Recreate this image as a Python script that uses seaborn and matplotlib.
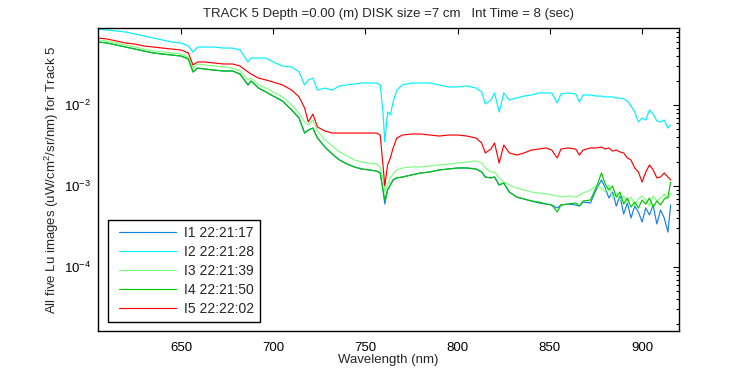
import numpy as np
import pandas as pd
import matplotlib
matplotlib.use('Agg')
import matplotlib.pyplot as plt
import matplotlib.ticker as mticker
from matplotlib.legend_handler import HandlerLine2D
import seaborn as sns

# Wavelength grid (nm) shared by all five Lu spectra
wavelength = [605, 610, 615, 620, 625, 630, 635, 640, 645, 650, 654, 656.5, 659, 663, 668, 673, 678, 682,
              686.3, 688, 692, 696, 700, 705, 710, 714, 717, 719, 721.5, 724, 728, 732, 736, 740, 744, 748,
              752, 756, 758, 759.5, 760.5, 762, 763.5, 765, 767, 770, 775, 780, 785, 790, 795, 800, 805,
              810, 813, 815, 818, 820, 822.5, 825, 828, 832, 836, 840, 844, 848, 851, 854, 856, 860, 864,
              866, 868, 872, 875, 878, 880, 882, 884, 886, 888, 890, 892, 894, 896, 898, 900, 902, 904,
              906, 908, 910, 912, 914, 915.5]

# I1 (blue)
lu_i1 = [0.0599, 0.0583, 0.0550, 0.0520, 0.0491, 0.0464, 0.0439, 0.0426, 0.0414, 0.0403, 0.0370, 0.0256,
         0.0286, 0.0278, 0.0270, 0.0263, 0.0263, 0.0241, 0.0177, 0.0198, 0.0162, 0.0145, 0.0129, 0.0112,
         0.00868, 0.00691, 0.00451, 0.00491, 0.00520, 0.00391, 0.00303, 0.00248, 0.00209, 0.00187,
         0.00172, 0.00162, 0.00158, 0.00153, 0.00145, 0.000893, 0.000599, 0.000893, 0.00103, 0.00119,
         0.00126, 0.00129, 0.00137, 0.00145, 0.00149, 0.00158, 0.00162, 0.00167, 0.00167, 0.00162,
         0.00149, 0.00129, 0.00126, 0.00129, 0.00103, 0.00109, 0.000843, 0.000731, 0.000691, 0.000653,
         0.000617, 0.000599, 0.000583, 0.000535, 0.000583, 0.000599, 0.000583, 0.000566, 0.000635,
         0.000617, 0.000893, 0.00119, 0.000945, 0.000711, 0.000843, 0.000566, 0.000753, 0.000451,
         0.000617, 0.000403, 0.000566, 0.000478, 0.000359, 0.000535, 0.000439, 0.000583, 0.000340,
         0.000505, 0.000403, 0.000270, 0.000583]

# I2 (cyan)
lu_i2 = [0.0868, 0.0843, 0.0820, 0.0797, 0.0753, 0.0711, 0.0672, 0.0635, 0.0599, 0.0583, 0.0535, 0.0451,
         0.0520, 0.0520, 0.0520, 0.0505, 0.0505, 0.0478, 0.0340, 0.0380, 0.0380, 0.0380, 0.0340, 0.0303,
         0.0295, 0.0256, 0.0177, 0.0204, 0.0215, 0.0153, 0.0162, 0.0153, 0.0172, 0.0177, 0.0182, 0.0187,
         0.0187, 0.0187, 0.0177, 0.00820, 0.00349, 0.00820, 0.00753, 0.0109, 0.0153, 0.0177, 0.0187,
         0.0187, 0.0187, 0.0177, 0.0167, 0.0167, 0.0172, 0.0162, 0.0145, 0.0103, 0.0115, 0.0141, 0.00820,
         0.0141, 0.0115, 0.0122, 0.0129, 0.0133, 0.0141, 0.0141, 0.0141, 0.0106, 0.0137, 0.0141, 0.0137,
         0.0109, 0.0133, 0.0133, 0.0129, 0.0129, 0.0126, 0.0126, 0.0126, 0.0122, 0.0122, 0.0119, 0.0112,
         0.00972, 0.00820, 0.00617, 0.00691, 0.00653, 0.00868, 0.00774, 0.00635, 0.00617, 0.00653,
         0.00520, 0.00566]

# I3 (light green)
lu_i3 = [0.0635, 0.0617, 0.0583, 0.0550, 0.0520, 0.0491, 0.0464, 0.0451, 0.0439, 0.0426, 0.0391, 0.0286,
         0.0321, 0.0312, 0.0303, 0.0295, 0.0286, 0.0263, 0.0204, 0.0215, 0.0177, 0.0162, 0.0145, 0.0126,
         0.0100, 0.00797, 0.00617, 0.00566, 0.00653, 0.00478, 0.00370, 0.00312, 0.00263, 0.00235,
         0.00209, 0.00198, 0.00192, 0.00187, 0.00172, 0.00119, 0.000843, 0.00103, 0.00126, 0.00141,
         0.00158, 0.00167, 0.00172, 0.00172, 0.00177, 0.00182, 0.00187, 0.00192, 0.00198, 0.00204,
         0.00192, 0.00167, 0.00149, 0.00149, 0.00126, 0.00112, 0.00103, 0.000945, 0.000893, 0.000843,
         0.000820, 0.000797, 0.000774, 0.000753, 0.000731, 0.000753, 0.000731, 0.000774, 0.000820,
         0.000893, 0.00100, 0.000945, 0.000843, 0.00103, 0.000711, 0.000820, 0.000672, 0.000753,
         0.000635, 0.000731, 0.000583, 0.000691, 0.000753, 0.000672, 0.000566, 0.000753, 0.000653,
         0.000711, 0.000797, 0.000691, 0.000820]

# I4 (green)
lu_i4 = [0.0599, 0.0583, 0.0550, 0.0520, 0.0491, 0.0464, 0.0439, 0.0426, 0.0414, 0.0403, 0.0370, 0.0256,
         0.0286, 0.0278, 0.0270, 0.0263, 0.0263, 0.0241, 0.0177, 0.0198, 0.0162, 0.0145, 0.0129, 0.0112,
         0.00868, 0.00691, 0.00451, 0.00491, 0.00520, 0.00391, 0.00303, 0.00248, 0.00209, 0.00187,
         0.00172, 0.00162, 0.00158, 0.00153, 0.00145, 0.000893, 0.000672, 0.000893, 0.00103, 0.00119,
         0.00126, 0.00129, 0.00137, 0.00145, 0.00149, 0.00158, 0.00162, 0.00167, 0.00167, 0.00162,
         0.00149, 0.00129, 0.00126, 0.00129, 0.00103, 0.00109, 0.000843, 0.000731, 0.000691, 0.000653,
         0.000635, 0.000599, 0.000583, 0.000478, 0.000583, 0.000599, 0.000617, 0.000566, 0.000653,
         0.000672, 0.000945, 0.00145, 0.00106, 0.000893, 0.00100, 0.000731, 0.000843, 0.000599,
         0.000711, 0.000550, 0.000635, 0.000535, 0.000672, 0.000599, 0.000711, 0.000550, 0.000653,
         0.000583, 0.000691, 0.000731, 0.00112]

# I5 (red)
lu_i5 = [0.0672, 0.0653, 0.0617, 0.0583, 0.0566, 0.0535, 0.0520, 0.0505, 0.0491, 0.0478, 0.0439, 0.0312,
         0.0340, 0.0340, 0.0330, 0.0321, 0.0321, 0.0303, 0.0256, 0.0241, 0.0215, 0.0204, 0.0192, 0.0177,
         0.0153, 0.0126, 0.00918, 0.00617, 0.00774, 0.00535, 0.00478, 0.00451, 0.00451, 0.00451,
         0.00451, 0.00451, 0.00451, 0.00451, 0.00426, 0.00182, 0.00100, 0.00182, 0.00222, 0.00295,
         0.00391, 0.00426, 0.00439, 0.00439, 0.00426, 0.00414, 0.00426, 0.00426, 0.00414, 0.00391,
         0.00340, 0.00256, 0.00286, 0.00340, 0.00192, 0.00321, 0.00256, 0.00241, 0.00256, 0.00278,
         0.00286, 0.00295, 0.00278, 0.00222, 0.00286, 0.00295, 0.00286, 0.00241, 0.00278, 0.00295,
         0.00295, 0.00303, 0.00286, 0.00295, 0.00270, 0.00278, 0.00263, 0.00256, 0.00222, 0.00209,
         0.00167, 0.00149, 0.00112, 0.00149, 0.00182, 0.00158, 0.00126, 0.00129, 0.00145, 0.00129,
         0.00119]

labels = ['I1 22:21:17', 'I2 22:21:28', 'I3 22:21:39', 'I4 22:21:50', 'I5 22:22:02']
colors = ['#1580e8', '#00f0ff', '#80ff80', '#00c800', '#ff0000']

# long-form table for seaborn
series = [lu_i1, lu_i2, lu_i3, lu_i4, lu_i5]
df = pd.concat([pd.DataFrame({'Wavelength': wavelength, 'Lu': vals, 'Image': lab})
                for vals, lab in zip(series, labels)], ignore_index=True)

sns.set_style('white')
plt.rcParams['font.family'] = ['Liberation Sans', 'DejaVu Sans']
plt.rcParams['mathtext.fontset'] = 'custom'
plt.rcParams['mathtext.rm'] = 'Liberation Sans'
plt.rcParams['mathtext.it'] = 'Liberation Sans:italic'
plt.rcParams['mathtext.bf'] = 'Liberation Sans:bold'

fs = 9.5

fig = plt.figure(figsize=(7.5, 3.75), dpi=100)
ax = fig.add_axes([0.1307, 0.1173, 0.7746, 0.808])

sns.lineplot(data=df, x='Wavelength', y='Lu', hue='Image', palette=dict(zip(labels, colors)),
             estimator=None, sort=False, linewidth=0.85, ax=ax)

ax.set_yscale('log')
ax.set_xlim(605, 920)
ax.set_ylim(1.62e-5, 0.0893)

ax.set_xticks([650, 700, 750, 800, 850, 900])
ax.xaxis.set_minor_locator(mticker.NullLocator())
ax.yaxis.set_major_locator(mticker.FixedLocator([1e-4, 1e-3, 1e-2]))
ax.yaxis.set_minor_locator(mticker.LogLocator(base=10, subs=np.arange(2, 10), numticks=20))
ax.yaxis.set_minor_formatter(mticker.NullFormatter())
ax.tick_params(which='both', direction='in', top=True, right=True, labelsize=fs, colors='black')
ax.tick_params(which='major', length=4, width=0.8)
ax.tick_params(which='minor', length=2.2, width=0.8)
ax.tick_params(axis='x', pad=8)
ax.tick_params(axis='y', pad=5)
for sp in ax.spines.values():
    sp.set_color('black')
    sp.set_linewidth(1)

ax.set_title('TRACK 5 Depth =0.00 (m) DISK size =7 cm   Int Time = 8 (sec)', fontsize=fs, pad=8)
ax.set_xlabel('Wavelength (nm)', fontsize=fs, labelpad=0)
ax.set_ylabel('All five Lu images (uW/cm$^2$/sr/nm) for Track 5', fontsize=fs, labelpad=2)

handles, labs = ax.get_legend_handles_labels()
leg = ax.legend(handles, labs, loc='lower left', bbox_to_anchor=(0.017, 0.03), borderaxespad=0,
                fontsize=10, handlelength=4.47, handletextpad=0.58, labelspacing=0.37,
                borderpad=0.42, fancybox=False, framealpha=1, edgecolor='black',
                handler_map={h: HandlerLine2D(xpad=0.375) for h in handles})
leg.get_frame().set_linewidth(1)

fig.savefig('out.png', dpi=100)
